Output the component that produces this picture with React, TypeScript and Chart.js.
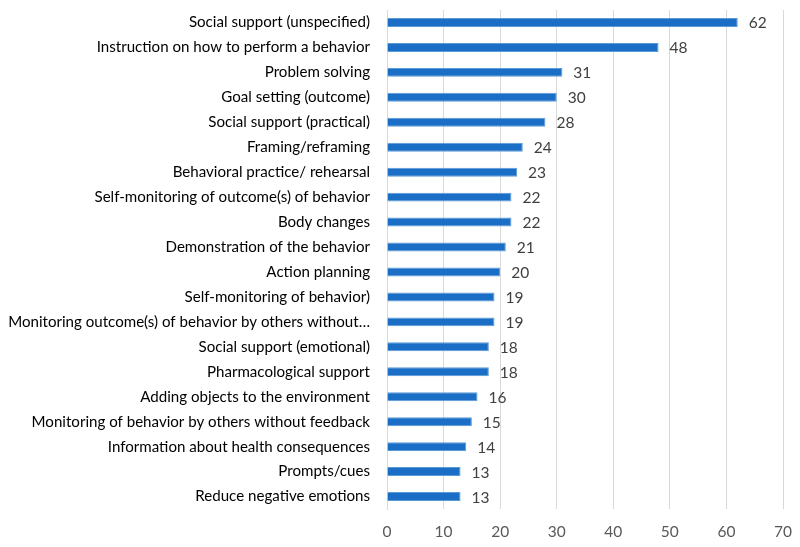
import React, { useEffect, useRef } from "react";
import { Chart, registerables } from "chart.js";

Chart.register(...registerables);

const categories = [
  "Social support (unspecified)",
  "Instruction on how to perform a behavior",
  "Problem solving",
  "Goal setting (outcome)",
  "Social support (practical)",
  "Framing/reframing",
  "Behavioral practice/ rehearsal",
  "Self-monitoring of outcome(s) of behavior",
  "Body changes",
  "Demonstration of the behavior",
  "Action planning",
  "Self-monitoring of behavior)",
  "Monitoring outcome(s) of behavior by others without…",
  "Social support (emotional)",
  "Pharmacological support",
  "Adding objects to the environment",
  "Monitoring of behavior by others without feedback",
  "Information about health consequences",
  "Prompts/cues",
  "Reduce negative emotions",
];
const values = [62, 48, 31, 30, 28, 24, 23, 22, 22, 21, 20, 19, 19, 18, 18, 16, 15, 14, 13, 13];
const xTicks = [0, 10, 20, 30, 40, 50, 60, 70];

const FONT = "Lato, 'Open Sans', sans-serif";

const valueLabels = {
  id: "valueLabels",
  afterDatasetsDraw(chart: any) {
    const ctx = chart.ctx;
    const meta = chart.getDatasetMeta(0);
    ctx.save();
    ctx.font = `15.5px ${FONT}`;
    ctx.fillStyle = "#404040";
    ctx.textAlign = "left";
    ctx.textBaseline = "middle";
    meta.data.forEach((bar: any, i: number) => {
      ctx.fillText(String(values[i]), bar.x + 11, bar.y + 1);
    });
    ctx.restore();
  },
};

export default function App() {
  const ref = useRef<HTMLCanvasElement | null>(null);
  useEffect(() => {
    if (!ref.current) return;
    const chart = new Chart(ref.current, {
      type: "bar",
      data: {
        labels: categories,
        datasets: [
          {
            data: values,
            backgroundColor: "#1b6ec6",
            borderColor: "#5b9bd5",
            borderWidth: 1,
            categoryPercentage: 1,
            barPercentage: 0.36,
          },
        ],
      },
      options: {
        indexAxis: "y",
        animation: false,
        responsive: false,
        maintainAspectRatio: false,
        layout: { padding: { top: 10, right: 17, left: 0, bottom: 0 } },
        plugins: { legend: { display: false }, tooltip: { enabled: false } },
        scales: {
          x: {
            min: 0,
            max: 70,
            afterBuildTicks: (s: any) => {
              s.ticks = xTicks.map((v) => ({ value: v }));
            },
            afterFit: (s: any) => {
              s.height = 38;
              s.paddingLeft = 0;
              s.paddingRight = 0;
            },
            grid: { color: "#d9d9d9", lineWidth: 1, drawTicks: false },
            border: { display: false },
            ticks: {
              padding: 14,
              color: "#595959",
              font: { family: FONT, size: 15.5 },
            },
          },
          y: {
            afterFit: (s: any) => {
              s.width = 387;
              s.paddingTop = 0;
              s.paddingBottom = 0;
            },
            grid: { display: false, drawTicks: false },
            border: { display: true, color: "#d9d9d9" },
            ticks: {
              padding: 17,
              color: "#000000",
              autoSkip: false,
              font: { family: FONT, size: 15.1 },
            },
          },
        },
      },
      plugins: [valueLabels],
    });
    return () => chart.destroy();
  }, []);
  return (
    <div style={{ position: "absolute", left: 0, top: 0, width: 800, height: 547, background: "#fff" }}>
      <canvas ref={ref} width={800} height={547} />
    </div>
  );
}
